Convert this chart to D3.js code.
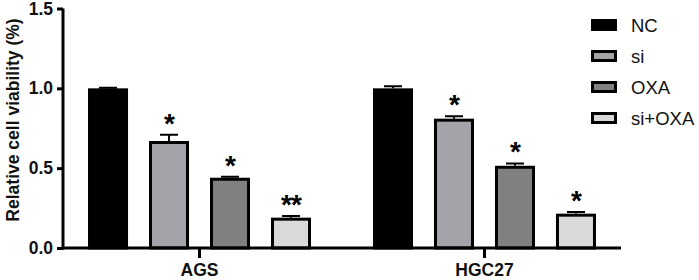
<!DOCTYPE html>
<html>
<head>
<meta charset="utf-8">
<script src="https://cdn.jsdelivr.net/npm/d3@7"></script>
<style>
    body { margin: 0; background: #fff; }
    text { font-family: "Liberation Sans", Arial, sans-serif; }
</style>
</head>
<body>
<svg id="chart" width="699" height="280"></svg>
<script>
// data
const groups = ['AGS', 'HGC27'];
const treatments = ['NC', 'si', 'OXA', 'si+OXA'];
const agsMeans = [1.0, 0.67, 0.44, 0.19];
const agsErrors = [0.003, 0.04, 0.006, 0.01];
const hgcMeans = [1.0, 0.81, 0.515, 0.215];
const hgcErrors = [0.013, 0.015, 0.015, 0.01];
const agsStars = ['', '*', '*', '**'];
const hgcStars = ['', '*', '*', '*'];
const yTicks = [0, 0.5, 1.0, 1.5];
const fills = ['#000000', '#a3a3aa', '#808080', '#d9d9d9'];

const rows = [
    { group: 'AGS', means: agsMeans, errors: agsErrors, stars: agsStars },
    { group: 'HGC27', means: hgcMeans, errors: hgcErrors, stars: hgcStars }
];

const svg = d3.select('#chart');
const stroke = 3;

// scales
const x0 = d3.scaleBand().domain(groups).range([63, 621])
    .paddingInner(0.2175).paddingOuter(0.0878);
const x1 = d3.scaleBand().domain(treatments).range([0, x0.bandwidth()])
    .paddingInner(0.344).paddingOuter(0);
const y = d3.scaleLinear().domain([0, 1.5]).range([248, 8.5]);
const color = d3.scaleOrdinal().domain(treatments).range(fills);

// bars, error bars, stars
const g = svg.append('g').attr('class', 'bars');
rows.forEach(row => {
    const gg = g.append('g').attr('transform', `translate(${x0(row.group)},0)`);
    const recs = treatments.map((t, i) => ({ t: t, v: row.means[i], e: row.errors[i], s: row.stars[i] }));

    // error bars (upper only)
    gg.selectAll('.err').data(recs).enter().append('path')
        .attr('class', 'err')
        .attr('fill', 'none')
        .attr('stroke', '#000')
        .attr('stroke-width', 2)
        .attr('d', d => {
            const cx = x1(d.t) + x1.bandwidth() / 2;
            const top = y(d.v + d.e);
            return `M${cx},${y(d.v)}V${top}M${cx - 9},${top}H${cx + 9}`;
        });

    gg.selectAll('rect').data(recs).enter().append('rect')
        .attr('x', d => x1(d.t) + stroke / 2)
        .attr('y', d => y(d.v) + stroke / 2)
        .attr('width', x1.bandwidth() - stroke)
        .attr('height', d => y(0) - y(d.v) - stroke / 2)
        .attr('fill', d => color(d.t))
        .attr('stroke', '#000')
        .attr('stroke-width', stroke);

    gg.selectAll('.star').data(recs.filter(d => d.s)).enter().append('text')
        .attr('class', 'star')
        .attr('x', d => x1(d.t) + x1.bandwidth() / 2)
        .attr('y', d => y(d.v + d.e) - 2)
        .attr('text-anchor', 'middle')
        .attr('font-size', '28px')
        .attr('font-weight', 'bold')
        .attr('letter-spacing', '-1px')
        .text(d => d.s);
});

// axes
const yAxisCall = d3.axisLeft(y).tickValues(yTicks).tickFormat(d3.format('.1f')).tickSize(6).tickPadding(4);
const yAxis = svg.append('g').attr('transform', 'translate(63,0)').call(yAxisCall);
const xAxisCall = d3.axisBottom(x0).tickSize(10).tickPadding(6);
const xAxis = svg.append('g').attr('transform', 'translate(0,248)').call(xAxisCall);

[xAxis, yAxis].forEach(ax => {
    ax.select('.domain').attr('stroke', '#000').attr('stroke-width', stroke);
    ax.selectAll('.tick line').attr('stroke', '#000').attr('stroke-width', stroke);
    ax.selectAll('.tick text')
        .attr('fill', '#111')
        .attr('font-size', '17.5px')
        .attr('font-weight', 'bold')
        .attr('font-family', '"Liberation Sans", Arial, sans-serif');
});
xAxis.select('.domain').attr('d', 'M63,0H621');
yAxis.select('.domain').attr('d', 'M0,249.5V8.5');

svg.append('text')
    .attr('transform', 'rotate(-90)')
    .attr('x', -120)
    .attr('y', 19)
    .attr('text-anchor', 'middle')
    .attr('font-size', '17.5px')
    .attr('font-weight', 'bold')
    .attr('fill', '#111')
    .text('Relative cell viability (%)');

// legend
const legend = svg.append('g').attr('transform', 'translate(591,0)');
const items = legend.selectAll('g').data(treatments).enter().append('g')
    .attr('transform', (d, i) => `translate(0,${25 + i * 31})`);
items.append('rect')
    .attr('x', stroke / 2).attr('y', -6 + stroke / 2)
    .attr('width', 26 - stroke).attr('height', 12 - stroke)
    .attr('fill', d => color(d))
    .attr('stroke', '#000')
    .attr('stroke-width', stroke);
items.append('text')
    .attr('x', 40)
    .attr('y', 0)
    .attr('dy', '0.36em')
    .attr('font-size', '18.5px')
    .attr('fill', '#111')
    .text(d => d);
</script>
</body>
</html>
